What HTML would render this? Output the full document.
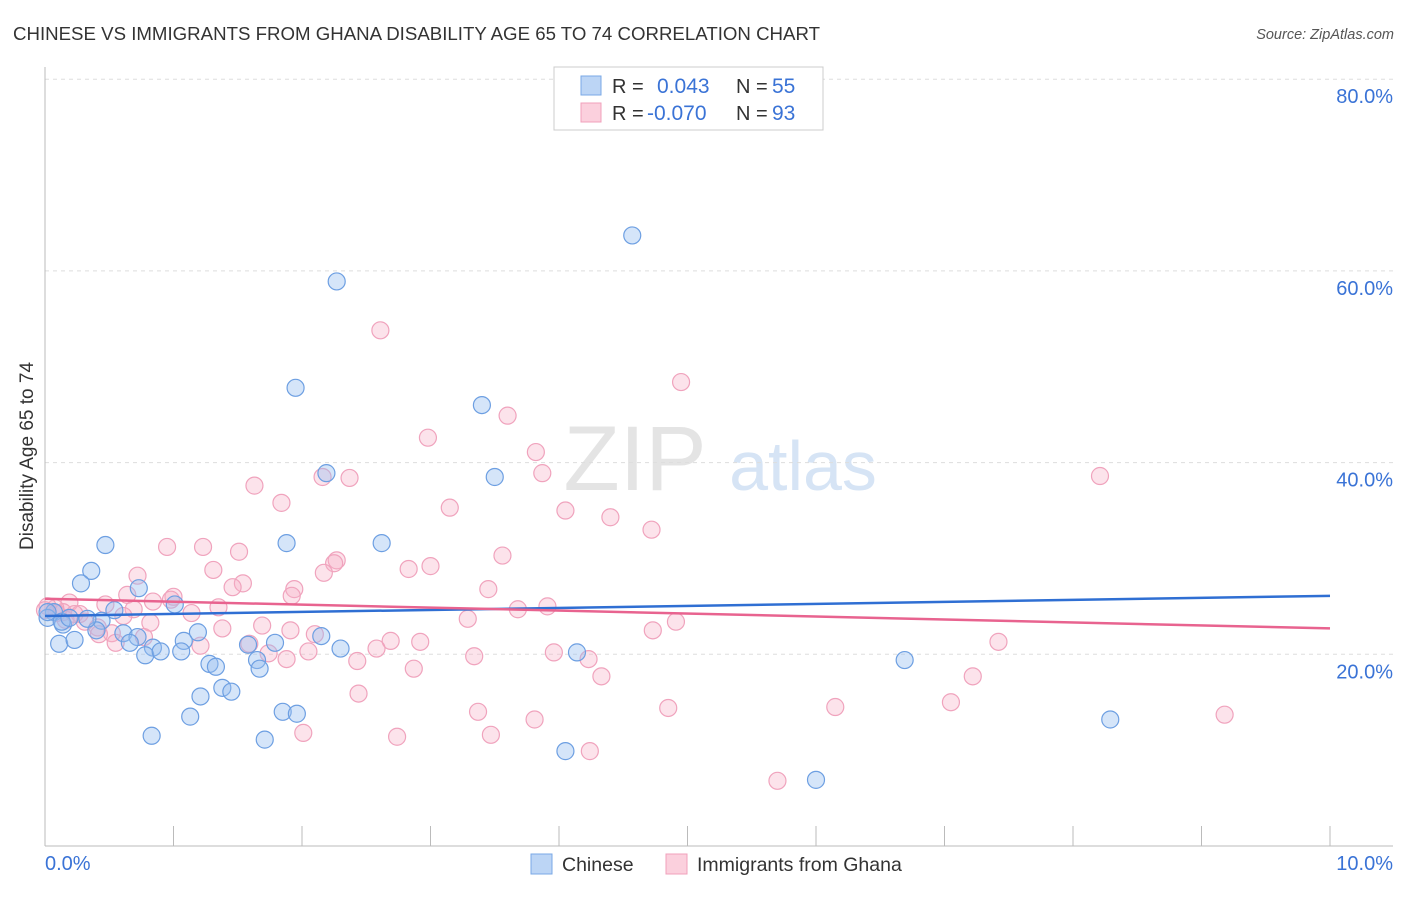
<!DOCTYPE html>
<html><head><meta charset="utf-8"><style>
body{margin:0;background:#fff;font-family:"Liberation Sans",sans-serif}
svg text{font-family:"Liberation Sans",sans-serif}
</style></head><body>
<svg id="chart" width="1406" height="892" viewBox="0 0 1406 892">
<text x="13" y="40" font-size="18.6" fill="#333" textLength="807" lengthAdjust="spacingAndGlyphs">CHINESE VS IMMIGRANTS FROM GHANA DISABILITY AGE 65 TO 74 CORRELATION CHART</text>
<text x="1394" y="39" font-size="14.5" fill="#555" font-style="italic" text-anchor="end">Source: ZipAtlas.com</text>
<g>
<text x="635" y="490" font-size="92" fill="#e4e4e4" font-family="Liberation Serif,serif" text-anchor="middle">ZIP</text>
<text x="803" y="490" font-size="70" fill="#d6e4f5" text-anchor="middle">atlas</text>
</g>
<g id="grid"></g>
<g id="axes"></g>
<g id="pts"></g>
<g id="trends"></g>
<text x="33" y="456" font-size="19" fill="#333" text-anchor="middle" transform="rotate(-90 33 456)">Disability Age 65 to 74</text>
<g>
<rect x="554" y="67" width="269" height="63" fill="#fff" stroke="#ccc"/>
<rect x="581" y="76" width="20" height="19" fill="#bcd5f5" stroke="#7aa8e6"/>
<rect x="581" y="103" width="20" height="19" fill="#fbd0dd" stroke="#f0a0bb"/>
<text x="612" y="93" font-size="20" fill="#333">R =</text><text x="657" y="93" font-size="21" fill="#3a73d6">0.043</text>
<text x="736" y="93" font-size="20" fill="#333">N =</text><text x="772" y="93" font-size="21" fill="#3a73d6">55</text>
<text x="612" y="120" font-size="20" fill="#333">R =</text><text x="647" y="120" font-size="21" fill="#3a73d6">-0.070</text>
<text x="736" y="120" font-size="20" fill="#333">N =</text><text x="772" y="120" font-size="21" fill="#3a73d6">93</text>
</g>
<g>
<rect x="531" y="854" width="21" height="20" fill="#bcd5f5" stroke="#7aa8e6"/>
<text x="562" y="871" font-size="19.5" fill="#333">Chinese</text>
<rect x="666" y="854" width="21" height="20" fill="#fbd0dd" stroke="#f0a0bb"/>
<text x="697" y="871" font-size="19.5" fill="#333">Immigrants from Ghana</text>
</g>
</svg>
<script>
const yTicks=[20,40,60,80];
const xTickCount=10;
const blueX=[4.57,2.27,1.95,3.40,2.19,3.50,2.62,1.88,0.47,0.36,0.28,0.73,1.01,0.54,0.07,0.02,0.14,0.44,0.40,0.61,0.72,1.08,1.19,0.11,0.23,0.66,0.84,0.78,1.06,0.90,2.15,1.79,2.30,1.58,1.65,1.28,1.33,1.67,4.14,6.69,1.38,1.45,1.21,1.85,1.96,1.13,8.29,0.83,1.71,4.05,6.00,0.13,0.33,0.19,0.02];
const blueY=[63.7,58.9,47.8,46.0,38.9,38.5,31.6,31.6,31.4,28.7,27.4,26.9,25.2,24.6,24.4,23.8,23.1,23.5,22.5,22.2,21.8,21.4,22.3,21.1,21.5,21.2,20.7,19.9,20.3,20.3,21.9,21.2,20.6,21.0,19.4,19.0,18.7,18.5,20.2,19.4,16.5,16.1,15.6,14.0,13.8,13.5,13.2,11.5,11.1,9.9,6.9,23.4,23.7,23.8,24.4];
const pinkX=[2.61,4.95,3.60,2.98,3.82,3.87,2.16,2.37,8.21,1.63,1.84,3.15,4.05,4.40,4.72,0.95,1.23,1.51,3.56,2.27,2.25,3.00,2.83,1.31,2.17,0.72,1.54,1.46,3.45,1.94,1.92,1.00,0.64,0.84,0.19,0.47,0.69,1.35,1.14,3.68,3.91,3.29,0.14,0.08,0.27,0.61,0.82,0.98,0.41,4.91,1.38,1.69,1.91,2.10,2.69,2.92,4.73,0.52,0.77,0.42,1.21,0.55,1.59,1.74,2.05,2.58,3.96,4.23,7.42,1.88,3.34,2.43,2.87,4.33,7.22,2.44,7.05,3.37,4.85,6.15,3.81,9.18,2.01,3.47,2.74,4.24,5.70,0.02,0.09,0.16,0.23,0.31,0.0];
const pinkY=[53.8,48.4,44.9,42.6,41.1,38.9,38.5,38.4,38.6,37.6,35.8,35.3,35.0,34.3,33.0,31.2,31.2,30.7,30.3,29.8,29.5,29.2,28.9,28.8,28.5,28.2,27.4,27.0,26.8,26.8,26.1,26.0,26.2,25.5,25.4,25.2,24.7,24.9,24.3,24.7,25.0,23.7,24.4,24.8,24.2,24.0,23.3,25.7,22.8,23.4,22.7,23.0,22.5,22.1,21.4,21.3,22.5,22.2,21.8,22.1,20.9,21.2,21.1,20.1,20.3,20.6,20.2,19.5,21.3,19.5,19.8,19.3,18.5,17.7,17.7,15.9,15.0,14.0,14.4,14.5,13.2,13.7,11.8,11.6,11.4,9.9,6.8,25.0,24.3,23.6,24.2,23.4,24.6];
const blueTrend=[24.0,26.1];
const pinkTrend=[25.8,22.7];
const NS="http://www.w3.org/2000/svg";
const xs=v=>45+v*128.5;
const ys=v=>846-v*9.585;
function mk(tag,attrs,parent){const e=document.createElementNS(NS,tag);for(const k in attrs)e.setAttribute(k,attrs[k]);document.getElementById(parent).appendChild(e);return e;}
yTicks.forEach(t=>{
 const g=mk('line',{x1:45,x2:1393,y1:ys(t),y2:ys(t),stroke:'#ddd','stroke-dasharray':'4,4'},'grid');
 
 
 const l=mk('text',{x:1393,y:ys(t)+24,'font-size':20,fill:'#3a73d6','text-anchor':'end'},'grid');
 l.textContent=t.toFixed(1)+'%';
 
 
});
const ax=mk('line',{x1:45,x2:45,y1:67,y2:846,stroke:'#bbb'},'axes');


const bx=mk('line',{x1:45,x2:1393,y1:846,y2:846,stroke:'#bbb'},'axes');


for(let i=0;i<=xTickCount;i++){
 const t=mk('line',{x1:xs(i),x2:xs(i),y1:826,y2:846,stroke:'#bbb'},'axes');
 
 
}
[[0,'0.0%','start',45],[10,'10.0%','end',1393]].forEach(a=>{
 const t=mk('text',{x:a[3],y:870,'font-size':20,fill:'#3a73d6','text-anchor':a[2]},'axes');
 t.textContent=a[1];
 
 
});
function dots(X,Y,fill,stroke,name){X.forEach((x,i)=>{
 const c=mk('circle',{cx:xs(x),cy:ys(Y[i]),r:8.5,fill:fill,stroke:stroke,'stroke-width':1.2},'pts');
 
 
});}
dots(pinkX,pinkY,'rgba(246,175,198,0.35)','#f0a3bd','ghana-point');
dots(blueX,blueY,'rgba(150,190,240,0.4)','#6d9fe2','chinese-point');
const tb=mk('line',{x1:xs(0),x2:xs(10),y1:ys(blueTrend[0]),y2:ys(blueTrend[1]),stroke:'#2f6fd3','stroke-width':2.5},'trends');


const tp=mk('line',{x1:xs(0),x2:xs(10),y1:ys(pinkTrend[0]),y2:ys(pinkTrend[1]),stroke:'#e8638f','stroke-width':2.5},'trends');


</script>
</body></html>
